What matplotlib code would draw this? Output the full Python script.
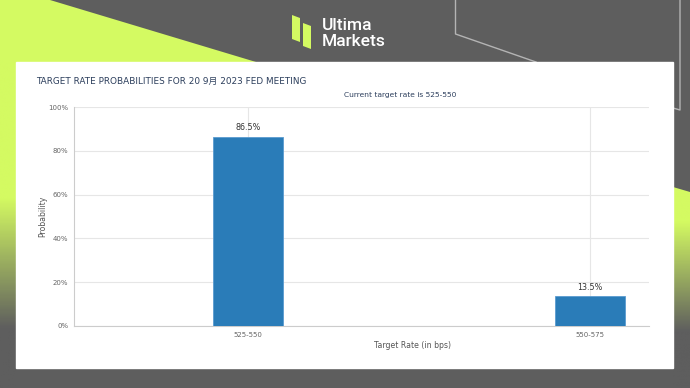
import matplotlib.pyplot as plt
import numpy as np
from matplotlib.patches import Polygon, Rectangle
from matplotlib.colors import LinearSegmentedColormap

# data
categories = ["525-550", "550-575"]
probs = [86.5, 13.5]
yticks = [0, 20, 40, 60, 80, 100]
title = "TARGET RATE PROBABILITIES FOR 20 9月 2023 FED MEETING"
subtitle = "Current target rate is 525-550"

plt.rcParams['font.family'] = ['DejaVu Sans', 'Noto Sans CJK SC']

W, H = 690, 388
gray = "#5e5e5e"
lime = "#d4fa62"
fig = plt.figure(figsize=(W / 100, H / 100), dpi=100, facecolor=gray)

# background layer in pixel coords
bg = fig.add_axes([0, 0, 1, 1])
bg.set_xlim(0, W)
bg.set_ylim(H, 0)
bg.axis("off")
bg.set_facecolor(gray)

# top left lime triangle
bg.add_patch(Polygon([(0, 0), (50, 0), (256, 62), (0, 62)], closed=True, color=lime, lw=0))
# left strip with fade
grad = np.linspace(0, 1, 300).reshape(-1, 1)
bg.imshow(grad, extent=[0, 16, 388, 60], aspect="auto", cmap=LinearSegmentedColormap.from_list(
    "l", [(0, lime), (0.42, lime), (0.82, gray), (1, gray)]), zorder=1)
# right shape with fade
rpoly = Polygon([(673, 187), (690, 192), (690, 388), (673, 388)], closed=True, fc="none", ec="none")
bg.add_patch(rpoly)
im = bg.imshow(grad, extent=[673, 690, 388, 187], aspect="auto", cmap=LinearSegmentedColormap.from_list(
    "r", [(0, lime), (0.17, lime), (0.72, gray), (1, gray)]), zorder=1)
im.set_clip_path(rpoly)

# thin decorative lines
bg.plot([455.5, 455.5, 536], [0, 34, 62], color="#b4b4b4", lw=1, zorder=2)
bg.plot([680, 680, 673], [0, 110, 108], color="#b4b4b4", lw=1, zorder=2)

# white panel
bg.add_patch(Rectangle((16, 62), 657, 306, color="white", zorder=3))

# logo
bg.add_patch(Polygon([(292, 15), (300, 18), (300, 42), (292, 39)], closed=True, color=lime, lw=0, zorder=3))
bg.add_patch(Polygon([(303, 23), (311, 26), (311, 49), (303, 46)], closed=True, color=lime, lw=0, zorder=3))
bg.text(322, 25, "Ultima", color="white", fontsize=12.5, family="Roboto", weight="medium",
        va="center", ha="left", zorder=3)
bg.text(322, 42, "Markets", color="white", fontsize=12.5, family="Roboto", weight="medium",
        va="center", ha="left", zorder=3)

# titles
bg.text(36, 81, title, color="#2c3e5c", fontsize=6.4, va="center", ha="left", zorder=4)
bg.text(400, 95, subtitle, color="#2c3e5c", fontsize=5.4, va="center", ha="center", zorder=4)

# chart
ax = fig.add_axes([74 / W, 1 - 326 / H, (649 - 74) / W, (326 - 107) / H])
ax.set_facecolor("none")
x = np.arange(len(categories))
bars = ax.bar(x, probs, width=0.205, color="#2a7cb8", edgecolor="#5a9bd0", linewidth=0.6, zorder=3)
for xi, p in zip(x, probs):
    ax.text(xi, p + 2, f"{p}%", ha="center", va="bottom", fontsize=5.8, color="#333333")

ax.set_xlim(-0.51, 1.174)
ax.set_ylim(0, 100)
ax.set_yticks(yticks)
ax.set_yticklabels([f"{t}%" for t in yticks], fontsize=5, color="#666666")
ax.set_xticks(x)
ax.set_xticklabels(categories, fontsize=5, color="#666666")
ax.tick_params(length=0, pad=4)
ax.grid(True, color="#e6e6e6", lw=0.8, zorder=0)
for s in ["top", "right"]:
    ax.spines[s].set_visible(False)
ax.spines["left"].set_color("#cccccc")
ax.spines["bottom"].set_color("#cccccc")

bg.text(413, 346, "Target Rate (in bps)", fontsize=5.6, color="#555555", ha="center", va="center", zorder=4)
bg.text(43, 216, "Probability", fontsize=5.6, color="#555555", ha="center", va="center", rotation=90, zorder=4)

fig.savefig("out.png", dpi=100, facecolor=gray)
